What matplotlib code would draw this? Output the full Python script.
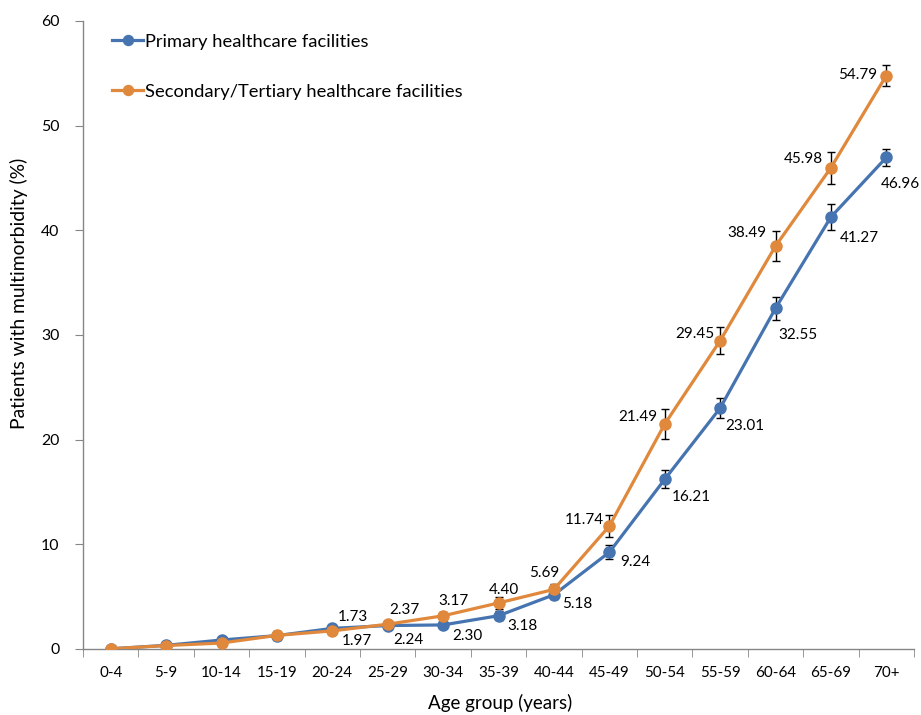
import matplotlib
matplotlib.use("Agg")
import matplotlib.pyplot as plt
import numpy as np

# ---- data ----
age_groups = ["0-4", "5-9", "10-14", "15-19", "20-24", "25-29", "30-34", "35-39",
              "40-44", "45-49", "50-54", "55-59", "60-64", "65-69", "70+"]
primary = [0.02, 0.35, 0.86, 1.28, 1.97, 2.24, 2.30, 3.18, 5.18, 9.24, 16.21, 23.01, 32.55, 41.27, 46.96]
primary_err = [0.05, 0.12, 0.2, 0.3, 0.3, 0.3, 0.3, 0.45, 0.45, 0.65, 0.87, 0.95, 1.1, 1.28, 0.8]
secondary = [0.02, 0.33, 0.57, 1.30, 1.73, 2.37, 3.17, 4.40, 5.69, 11.74, 21.49, 29.45, 38.49, 45.98, 54.79]
secondary_err = [0.05, 0.12, 0.2, 0.4, 0.3, 0.35, 0.4, 0.55, 0.5, 1.03, 1.43, 1.3, 1.4, 1.55, 1.0]
primary_labelled = [False, False, False, False] + [True] * 11
secondary_labelled = [False, False, False, False] + [True] * 11
series_names = ["Primary healthcare facilities", "Secondary/Tertiary healthcare facilities"]

# label offsets in pixels (dx, dy) - style
prim_off = [None] * 4 + [(25, -13), (21, -14), (24, -11), (24, -10), (23, -9), (26, -10),
                         (27, -18), (25, -18), (22, -27), (28, -21), (14, -27)]
sec_off = [None] * 4 + [(21, 14), (17, 14), (10, 15), (5, 13), (-10, 16), (-25, 6),
                        (-27, 7), (-25, 7), (-29, 13), (-28, 9), (-29, 1)]

FONT = "Lato"
plt.rcParams["font.family"] = [FONT, "DejaVu Sans"]

blue = "#4674B0"
orange = "#E0883C"
axis_gray = "#868686"

fig = plt.figure(figsize=(9.21, 7.15), dpi=100)
ax = fig.add_axes([83 / 921, 1 - 649 / 715, (914 - 83) / 921, (649 - 21) / 715])
renderer = fig.canvas.get_renderer()


def fit_size(txt, target_px, base=11.0):
    t = fig.text(0, 0, txt, fontsize=base)
    w = t.get_window_extent(renderer).width
    t.remove()
    return base * target_px / w


x = np.arange(len(age_groups))
for vals, errs, col, lab in [(primary, primary_err, blue, series_names[0]),
                             (secondary, secondary_err, orange, series_names[1])]:
    ax.errorbar(x, vals, yerr=errs, fmt="none", ecolor="black", elinewidth=1.0,
                capsize=3, capthick=1.0, zorder=2)
    ax.plot(x, vals, color=col, lw=2.3, marker="o", markersize=8, label=lab, zorder=3)

lab_fs = fit_size("54.79", 39)
for i, v in enumerate(primary):
    if primary_labelled[i]:
        ax.annotate(f"{v:.2f}", (x[i], v), xytext=prim_off[i], textcoords="offset pixels",
                    ha="center", va="center", fontsize=lab_fs, color="black", zorder=5)
for i, v in enumerate(secondary):
    if secondary_labelled[i]:
        ax.annotate(f"{v:.2f}", (x[i], v), xytext=sec_off[i], textcoords="offset pixels",
                    ha="center", va="center", fontsize=lab_fs, color="black", zorder=5)

ax.set_xlim(-0.5, len(age_groups) - 0.5)
ax.set_ylim(0, 60)
ax.set_yticks(np.arange(0, 61, 10))
ax.set_xticks(x)
xt_fs = fit_size("10-14", 41)
yt_fs = fit_size("60", 18.5)
ax.set_xticklabels(age_groups, fontsize=xt_fs)
ax.set_xticks(np.arange(-0.5, len(age_groups), 1), minor=True)
ax.tick_params(axis="x", which="major", length=0, pad=12)
ax.tick_params(axis="x", which="minor", length=6, color=axis_gray, direction="out")
ax.tick_params(axis="y", length=6, color=axis_gray, direction="out", pad=11, labelsize=yt_fs)

for s in ["top", "right"]:
    ax.spines[s].set_visible(False)
for s in ["left", "bottom"]:
    ax.spines[s].set_color(axis_gray)
    ax.spines[s].set_linewidth(1)

xl_fs = fit_size("Age group (years)", 144)
yl_fs = fit_size("Patients with multimorbidity (%)", 270)
ax.set_xlabel("Age group (years)", fontsize=xl_fs)
ax.set_ylabel("Patients with multimorbidity (%)", fontsize=yl_fs)
ax.xaxis.set_label_coords(500 / 921, 1 - 703 / 715, transform=fig.transFigure)
ax.xaxis.label.set_va("center")
ax.yaxis.set_label_coords(19 / 921, 1 - 293 / 715, transform=fig.transFigure)
ax.yaxis.label.set_va("center")

# legend
leg_fs = fit_size(series_names[0], 222)
f_px = leg_fs * 100 / 72
spacing = 2.2
anchor_y = 1 - 32 / 715
for _ in range(3):
    leg = ax.legend(loc="upper left", bbox_to_anchor=(112 / 921, anchor_y),
                    bbox_transform=fig.transFigure, frameon=False, fontsize=leg_fs,
                    handlelength=31 / f_px, handletextpad=2 / f_px, labelspacing=spacing,
                    borderpad=0, borderaxespad=0, numpoints=1, markerscale=0.9)
    fig.canvas.draw()
    ext = [t.get_window_extent(renderer) for t in leg.get_texts()]
    c = [715 - (e.y0 + e.y1) / 2 for e in ext]
    gap = c[1] - c[0]
    spacing += (50 - gap) / f_px
    anchor_y += (c[0] - 41.7) / 715

fig.savefig("out.png", dpi=100)
